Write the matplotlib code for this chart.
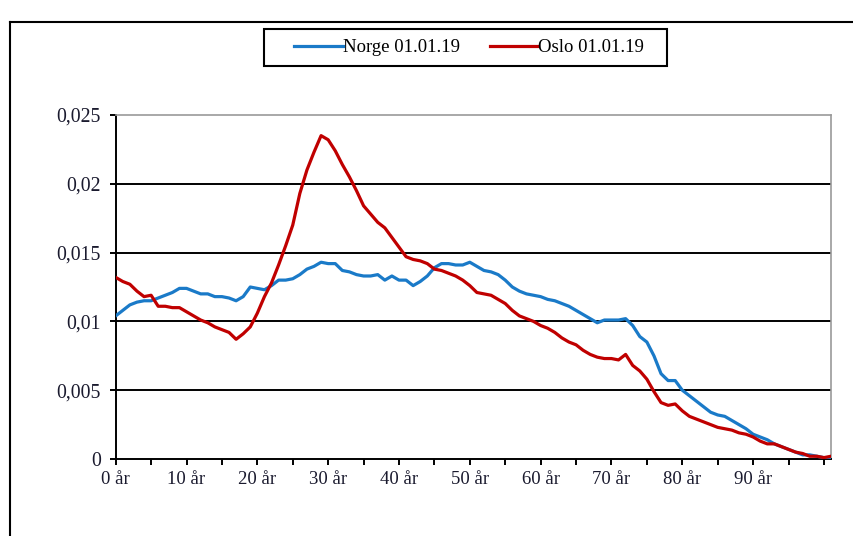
import numpy as np
import matplotlib
matplotlib.use('Agg')
import matplotlib.pyplot as plt
from matplotlib.lines import Line2D
from matplotlib.patches import Rectangle

# andel av befolkningen per alder (0 - 101 år)
ages = np.arange(0, 102)
norge = [0.0104, 0.0108, 0.0112, 0.0114, 0.0115, 0.0115, 0.0117, 0.0119, 0.0121, 0.0124,
         0.0124, 0.0122, 0.0120, 0.0120, 0.0118, 0.0118, 0.0117, 0.0115, 0.0118, 0.0125,
         0.0124, 0.0123, 0.0126, 0.0130, 0.0130, 0.0131, 0.0134, 0.0138, 0.0140, 0.0143,
         0.0142, 0.0142, 0.0137, 0.0136, 0.0134, 0.0133, 0.0133, 0.0134, 0.0130, 0.0133,
         0.0130, 0.0130, 0.0126, 0.0129, 0.0133, 0.0139, 0.0142, 0.0142, 0.0141, 0.0141,
         0.0143, 0.0140, 0.0137, 0.0136, 0.0134, 0.0130, 0.0125, 0.0122, 0.0120, 0.0119,
         0.0118, 0.0116, 0.0115, 0.0113, 0.0111, 0.0108, 0.0105, 0.0102, 0.0099, 0.0101,
         0.0101, 0.0101, 0.0102, 0.0097, 0.0089, 0.0085, 0.0075, 0.0062, 0.0057, 0.0057,
         0.0050, 0.0046, 0.0042, 0.0038, 0.0034, 0.0032, 0.0031, 0.0028, 0.0025, 0.0022,
         0.0018, 0.0016, 0.0014, 0.0011, 0.0009, 0.0007, 0.0005, 0.0003, 0.0003, 0.0002,
         0.0001, 0.0001]
oslo = [0.0132, 0.0129, 0.0127, 0.0122, 0.0118, 0.0119, 0.0111, 0.0111, 0.0110, 0.0110,
        0.0107, 0.0104, 0.0101, 0.0099, 0.0096, 0.0094, 0.0092, 0.0087, 0.0091, 0.0096,
        0.0106, 0.0118, 0.0128, 0.0141, 0.0155, 0.0170, 0.0193, 0.0210, 0.0223, 0.0235,
        0.0232, 0.0224, 0.0214, 0.0205, 0.0195, 0.0184, 0.0178, 0.0172, 0.0168, 0.0161,
        0.0154, 0.0147, 0.0145, 0.0144, 0.0142, 0.0138, 0.0137, 0.0135, 0.0133, 0.0130,
        0.0126, 0.0121, 0.0120, 0.0119, 0.0116, 0.0113, 0.0108, 0.0104, 0.0102, 0.0100,
        0.0097, 0.0095, 0.0092, 0.0088, 0.0085, 0.0083, 0.0079, 0.0076, 0.0074, 0.0073,
        0.0073, 0.0072, 0.0076, 0.0068, 0.0064, 0.0058, 0.0049, 0.0041, 0.0039, 0.0040,
        0.0035, 0.0031, 0.0029, 0.0027, 0.0025, 0.0023, 0.0022, 0.0021, 0.0019, 0.0018,
        0.0016, 0.0013, 0.0011, 0.0011, 0.0009, 0.0007, 0.0005, 0.0004, 0.0002, 0.0002,
        0.0001, 0.0002]
series_labels = ['Norge 01.01.19', 'Oslo 01.01.19']
ytick_vals = [0, 0.005, 0.01, 0.015, 0.02, 0.025]
ytick_labels = ['0', '0,005', '0,01', '0,015', '0,02', '0,025']
xtick_vals = list(range(0, 101, 5))
xtick_labels = ['{} år'.format(a) if a % 10 == 0 and a < 100 else '' for a in xtick_vals]

plt.rcParams['font.family'] = ['Liberation Serif', 'DejaVu Serif']

W, H = 854, 536
fig = plt.figure(figsize=(W / 100, H / 100), dpi=100)
ax = fig.add_axes([115.7 / W, 1 - 459 / H, (831 - 115.7) / W, (459 - 115) / H])

# horisontale rutenett
for v in ytick_vals[1:-1]:
    ax.axhline(v, color='black', lw=1.4, zorder=1)

ax.plot(ages, norge, color='#1a7ac8', lw=2.3, label=series_labels[0], zorder=3)
ax.plot(ages, oslo, color='#c00000', lw=2.3, label=series_labels[1], zorder=3)

ax.set_xlim(0, 101)
ax.set_ylim(0, 0.025)
ax.set_yticks(ytick_vals)
ax.set_yticklabels(ytick_labels)
ax.set_xticks(xtick_vals)
ax.set_xticklabels(xtick_labels)
ax.tick_params(axis='both', direction='out', length=4.5, width=1.4, color='black',
               labelsize=13.5, labelcolor='#1a1a2e')
ax.tick_params(axis='y', pad=6, labelsize=14.2)
ax.tick_params(axis='x', pad=4)

for s in ['left', 'bottom']:
    ax.spines[s].set_color('black')
    ax.spines[s].set_linewidth(1.4)
for s in ['top', 'right']:
    ax.spines[s].set_color('#9a9a9a')
    ax.spines[s].set_linewidth(1.2)

# forklaring uten egen ramme, rammen tegnes separat
leg = fig.legend(loc='center', bbox_to_anchor=(469 / W, 1 - 47.5 / H), ncol=2,
                 fontsize=13.5, frameon=False, handlelength=2.6, handletextpad=0.0,
                 columnspacing=1.6, borderaxespad=0)
fig.add_artist(Rectangle((264 / W, 1 - 66 / H), (667 - 264) / W, 37 / H,
                         transform=fig.transFigure, fill=False, edgecolor='black', lw=1.5))

# ytre ramme rundt diagrammet
fig.add_artist(Line2D([10 / W, 1], [1 - 22 / H, 1 - 22 / H], color='black', lw=1.5,
                      transform=fig.transFigure))
fig.add_artist(Line2D([10 / W, 10 / W], [0, 1 - 22 / H], color='black', lw=1.5,
                      transform=fig.transFigure))

fig.savefig('out.png', dpi=100)
